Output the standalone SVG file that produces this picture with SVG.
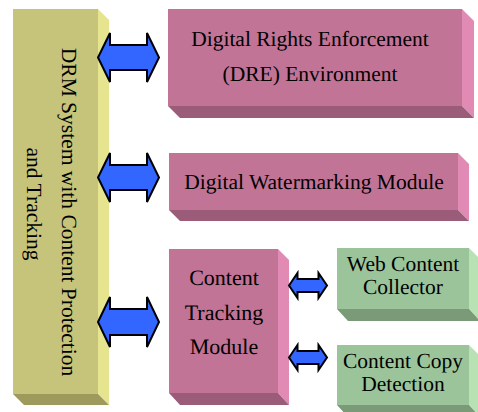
<svg xmlns="http://www.w3.org/2000/svg" width="478" height="412" viewBox="0 0 478 412">
<style>
text{font-family:"Liberation Serif","Times New Roman",serif;font-size:21.5px;fill:#000;text-anchor:middle;text-rendering:geometricPrecision}
.yf{fill:#c6c47a}.ys{fill:#e6e48e}.yb{fill:#9d9a5c}
.pf{fill:#c27496}.ps{fill:#e08ab4}.pb{fill:#9b5c7a}
.gf{fill:#9cc49a}.gs{fill:#b8e2b4}.gb{fill:#7a9a78}
.arr{fill:#3366ff;stroke:#000;stroke-width:2;stroke-linejoin:miter}
</style>
<rect width="478" height="412" fill="#fff"/>
<g id="drm-system">
<rect class="yf" x="13" y="9" width="85" height="385"/>
<polygon class="ys" points="98,9 109,20 109,405 98,394"/>
<polygon class="yb" points="13,394 98,394 109,405 24,405"/>
<text transform="translate(62,212) rotate(90)">DRM System with Content Protection</text>
<text transform="translate(27,204) rotate(90)">and Tracking</text>
</g>
<g id="dre">
<rect class="pf" x="168" y="9" width="294" height="97"/>
<polygon class="ps" points="462,9 474,21 474,118 462,106"/>
<polygon class="pb" points="168,106 462,106 474,118 180,118"/>
<text x="310" y="46" font-family="Liberation Serif">Digital Rights Enforcement</text>
<text x="310" y="81" font-family="Liberation Serif">(DRE) Environment</text>
</g>
<g id="watermarking">
<rect class="pf" x="169" y="153" width="289" height="57"/>
<polygon class="ps" points="458,153 469,164 469,221 458,210"/>
<polygon class="pb" points="169,210 458,210 469,221 180,221"/>
<text x="314" y="189">Digital Watermarking Module</text>
</g>
<g id="tracking">
<rect class="pf" x="169" y="249" width="109" height="144"/>
<polygon class="ps" points="278,249 289,260 289,405 278,393"/>
<polygon class="pb" points="169,393 278,393 289,405 180,405"/>
<text x="224" y="285" style="font-size:22px">Content</text>
<text x="224" y="320" style="font-size:22px">Tracking</text>
<text x="224" y="354" style="font-size:22px">Module</text>
</g>
<g id="web-collector">
<rect class="gf" x="337" y="248" width="132" height="61"/>
<polygon class="gs" points="469,248 480,259 480,321 469,309"/>
<polygon class="gb" points="337,309 469,309 480,321 348,321"/>
<text x="403" y="271">Web Content</text>
<text x="403" y="294">Collector</text>
</g>
<g id="copy-detection">
<rect class="gf" x="337" y="345" width="132" height="60"/>
<polygon class="gs" points="469,345 480,356 480,417 469,405"/>
<polygon class="gb" points="337,405 469,405 480,417 348,417"/>
<text x="403" y="368">Content Copy</text>
<text x="403" y="391">Detection</text>
</g>
<g id="connectors">
<polygon class="arr" points="98,57.5 110,33 110,45 147,45 147,33 159,57.5 147,82 147,70 110,70 110,82"/>
<polygon class="arr" points="98,177.5 110,153 110,165 147,165 147,153 159,177.5 147,202 147,190 110,190 110,202"/>
<polygon class="arr" points="98,322 110,297 110,309 147,309 147,297 159,322 147,347 147,335 110,335 110,347"/>
<polygon class="arr" points="289,285.5 297.5,273 297.5,279 318.5,279 318.5,273 327,285.5 318.5,298 318.5,292 297.5,292 297.5,298"/>
<polygon class="arr" points="289,357.5 297.5,345 297.5,351 318.5,351 318.5,345 327,357.5 318.5,370 318.5,364 297.5,364 297.5,370"/>
</g>
</svg>
